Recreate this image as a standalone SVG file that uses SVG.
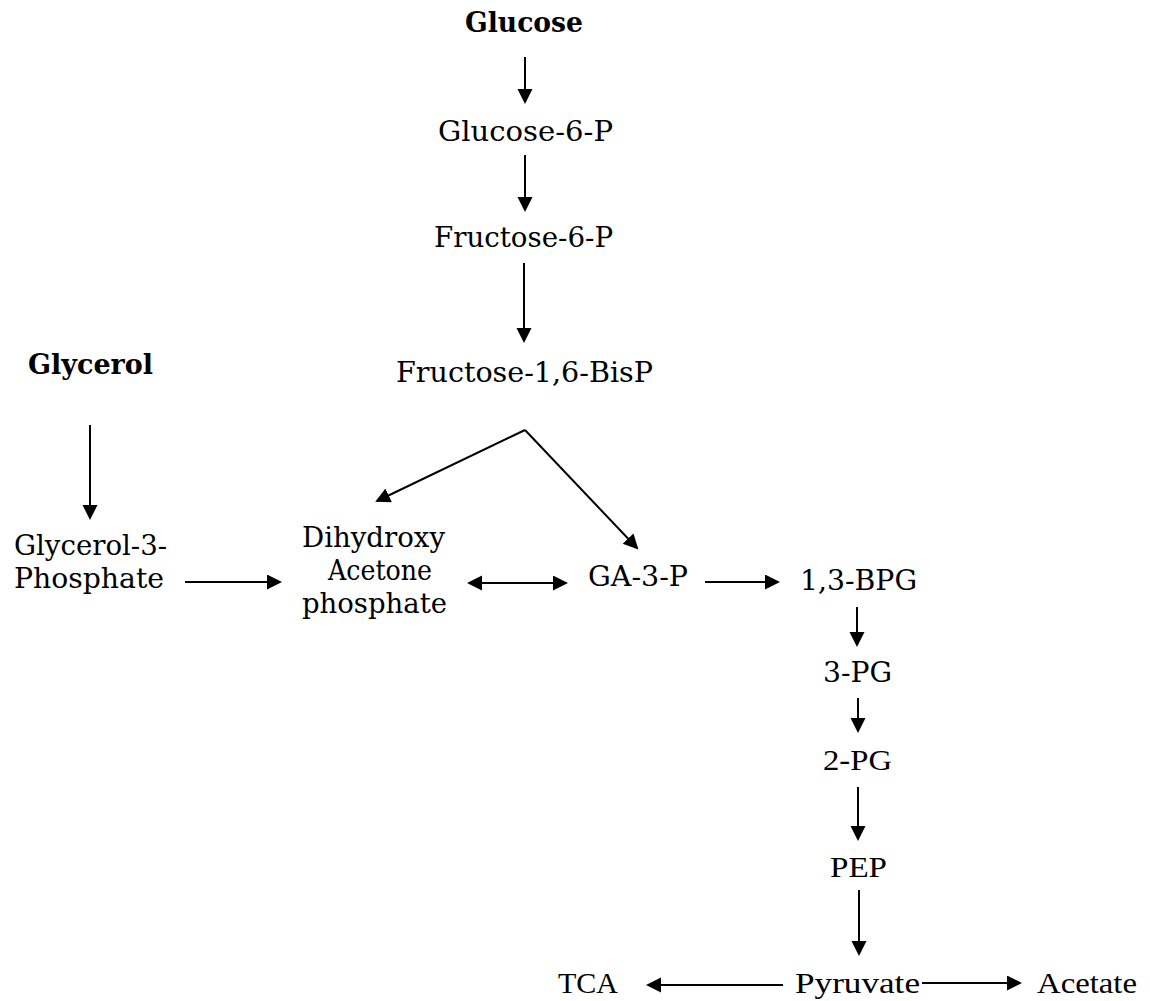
<svg xmlns="http://www.w3.org/2000/svg" width="1150" height="1001" viewBox="0 0 1150 1001">
<style>
text{fill:#000;text-anchor:middle}
.t{font-family:"DejaVu Serif","Liberation Serif",serif;font-size:28px}
.b{font-family:"DejaVu Serif","Liberation Serif",serif;font-size:27px;font-weight:bold}
.c{font-family:"Liberation Serif","DejaVu Serif",serif;font-size:30px}
.a{stroke:#000;stroke-width:2;fill:none;marker-end:url(#ah)}
</style>
<defs>
<marker id="ah" markerUnits="userSpaceOnUse" markerWidth="16" markerHeight="16" refX="13" refY="7.5" orient="auto-start-reverse" viewBox="0 0 16 16">
<path d="M0,0 L15,7.5 L0,15 z" fill="#000"/>
</marker>
</defs>
<rect width="1150" height="1001" fill="#fff"/>
<g id="glucose"><text class="b" x="524" y="32" textLength="118" lengthAdjust="spacingAndGlyphs">Glucose</text></g>
<g id="g6p"><text class="t" x="525.5" y="141" textLength="175" lengthAdjust="spacingAndGlyphs">Glucose-6-P</text></g>
<g id="f6p"><text class="t" x="523.5" y="247" textLength="179" lengthAdjust="spacingAndGlyphs">Fructose-6-P</text></g>
<g id="f16bp"><text class="t" x="524.5" y="382" textLength="257" lengthAdjust="spacingAndGlyphs">Fructose-1,6-BisP</text></g>
<g id="glycerol"><text class="b" x="90.5" y="374" textLength="125" lengthAdjust="spacingAndGlyphs">Glycerol</text></g>
<g id="g3p"><text class="t" x="90.5" y="555" textLength="153" lengthAdjust="spacingAndGlyphs">Glycerol-3-</text><text class="t" x="89" y="588" textLength="150" lengthAdjust="spacingAndGlyphs">Phosphate</text></g>
<g id="dhap"><text class="t" x="373.5" y="547" textLength="143" lengthAdjust="spacingAndGlyphs">Dihydroxy</text><text class="t" x="380" y="580" textLength="104" lengthAdjust="spacingAndGlyphs">Acetone</text><text class="t" x="374.5" y="613" textLength="145" lengthAdjust="spacingAndGlyphs">phosphate</text></g>
<g id="ga3p"><text class="t" x="638" y="586" textLength="100" lengthAdjust="spacingAndGlyphs">GA-3-P</text></g>
<g id="bpg"><text class="t" x="858.5" y="590" textLength="117" lengthAdjust="spacingAndGlyphs">1,3-BPG</text></g>
<g id="pg3"><text class="t" x="857.5" y="682" textLength="69" lengthAdjust="spacingAndGlyphs">3-PG</text></g>
<g id="pg2"><text class="c" x="857.5" y="770" textLength="69" lengthAdjust="spacingAndGlyphs">2-PG</text></g>
<g id="pep"><text class="c" x="858.5" y="877" textLength="57" lengthAdjust="spacingAndGlyphs">PEP</text></g>
<g id="pyruvate"><text class="c" x="857.5" y="993" textLength="125" lengthAdjust="spacingAndGlyphs">Pyruvate</text></g>
<g id="tca"><text class="c" x="588" y="993" textLength="60" lengthAdjust="spacingAndGlyphs">TCA</text></g>
<g id="acetate"><text class="c" x="1087" y="993" textLength="100" lengthAdjust="spacingAndGlyphs">Acetate</text></g>
<g id="connectors">
<line class="a" x1="525" y1="57" x2="525" y2="102"/>
<line class="a" x1="525" y1="155" x2="525" y2="210"/>
<line class="a" x1="524" y1="263" x2="524" y2="341"/>
<line class="a" x1="90" y1="425" x2="90" y2="518"/>
<line class="a" x1="185" y1="582" x2="280" y2="582"/>
<line class="a" x1="525" y1="430" x2="377" y2="501"/>
<line class="a" x1="525" y1="430" x2="637" y2="548"/>
<line class="a" x1="469" y1="583" x2="566" y2="583" style="marker-start:url(#ah)"/>
<line class="a" x1="705" y1="582" x2="778" y2="582"/>
<line class="a" x1="857" y1="607" x2="857" y2="645"/>
<line class="a" x1="858" y1="698" x2="858" y2="731"/>
<line class="a" x1="858" y1="787" x2="858" y2="839"/>
<line class="a" x1="859" y1="890" x2="859" y2="954"/>
<line class="a" x1="783" y1="985" x2="648" y2="985"/>
<line class="a" x1="922" y1="983" x2="1020" y2="983"/>
</g>
</svg>
